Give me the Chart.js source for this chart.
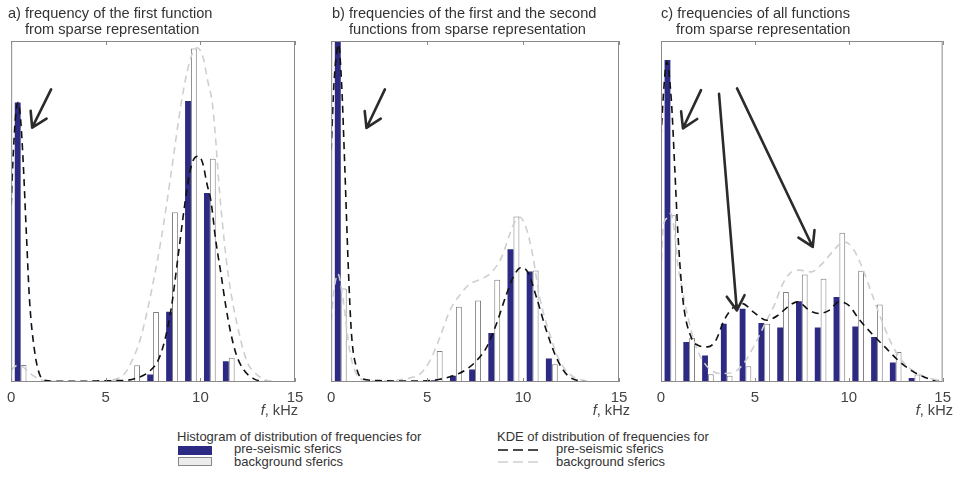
<!DOCTYPE html>
<html>
<head>
<meta charset="utf-8">
<script src="https://cdn.jsdelivr.net/npm/chart.js@4.4.1/dist/chart.umd.min.js"></script>
<style>
  body { margin: 0; background: #fff; font-family: "Liberation Sans", Arial, sans-serif; color: #333; }
  #page { position: relative; width: 958px; height: 490px; overflow: hidden; }
  canvas { position: absolute; top: 0; }
  .title { position: absolute; top: 6px; font-size: 14.6px; line-height: 15.5px; white-space: nowrap; }
  .unit { position: absolute; top: 403px; width: 80px; font-size: 14.6px; line-height: 15.5px; text-align: right; color: #444; }
  .lg { position: absolute; font-size: 13px; line-height: 15px; white-space: nowrap; }
  .box { position: absolute; left: 178px; width: 32px; height: 7px; }
</style>
</head>
<body>
<div id="page">
  <canvas id="chartA" width="320" height="412" style="left:0px"></canvas>
  <canvas id="chartB" width="320" height="412" style="left:320px"></canvas>
  <canvas id="chartC" width="318" height="412" style="left:640px"></canvas>

  <div class="title" style="left:8px">a) frequency of the first function<br><span style="padding-left:17px">from sparse representation</span></div>
  <div class="title" style="left:332px">b) frequencies of the first and the second<br><span style="padding-left:17px">functions from sparse representation</span></div>
  <div class="title" style="left:661px">c) frequencies of all functions<br><span style="padding-left:15px">from sparse representation</span></div>

  <div class="unit" style="left:218px"><i>f</i>, kHz</div>
  <div class="unit" style="left:550px"><i>f</i>, kHz</div>
  <div class="unit" style="left:873px"><i>f</i>, kHz</div>

  <div class="lg" style="left:177px; top:429px">Histogram of distribution of frequencies for</div>
  <div class="box" style="top:446px; background:#2d2a84; border:1px solid #2d2a84"></div>
  <div class="lg" style="left:234px; top:441px">pre-seismic sferics</div>
  <div class="box" style="top:457px; background:#ececec; border:1px solid #888"></div>
  <div class="lg" style="left:234px; top:454px">background sferics</div>

  <div class="lg" style="left:497px; top:429px">KDE of distribution of frequencies for</div>
  <svg style="position:absolute; left:498px; top:440px" width="42" height="30">
    <line x1="0" y1="10" x2="40" y2="10" stroke="#111" stroke-width="1.6" stroke-dasharray="10 5"></line>
    <line x1="0" y1="22" x2="40" y2="22" stroke="#cfcfcf" stroke-width="1.6" stroke-dasharray="10 5"></line>
  </svg>
  <div class="lg" style="left:556px; top:441px">pre-seismic sferics</div>
  <div class="lg" style="left:556px; top:454px">background sferics</div>
</div>

<script>
// histogram bin centres, kHz
const bins = [0.5, 1.5, 2.5, 3.5, 4.5, 5.5, 6.5, 7.5, 8.5, 9.5, 10.5, 11.5, 12.5, 13.5, 14.5];
const xTicks = [0, 5, 10, 15];

// a) first function
const preA = [82, 0, 0.3, 0.3, 0.3, 0.4, 0, 2.2, 20.6, 82.4, 55.4, 6.1, 0, 0, 0];
const bgA = [5, 0, 0, 0, 0.3, 0.5, 4.9, 20.5, 49.8, 97.8, 65.5, 7.1, 0, 0, 0];
const kdePreA = [[0, 52], [0.12, 68], [0.25, 79], [0.37, 82], [0.5, 77], [0.63, 65], [0.8, 44], [0.97, 24],
  [1.24, 9], [1.5, 2.3], [1.85, 0.4], [2.5, 0.2], [3.5, 0.2], [4.5, 0.3], [5.5, 0.4], [6.1, 0.5], [6.55, 1],
  [7.25, 2.9], [7.77, 6.4], [8.12, 12.3], [8.47, 22], [8.82, 36.8], [9.16, 51.5], [9.43, 61.3], [9.69, 65.7],
  [9.9, 66.2], [10.12, 64.2], [10.35, 58], [10.56, 53], [10.8, 42], [11.08, 32], [11.35, 22], [11.6, 14.5],
  [11.9, 8], [12.3, 3.5], [12.8, 1], [13.3, 0.2], [14, 0], [15, 0]];
const kdeBgA = [[0, 3.5], [0.3, 4.8], [0.6, 4.5], [1, 2.5], [1.5, 0.8], [2, 0.2], [4, 0.1], [5.5, 0.8], [6, 2.5],
  [6.4, 6.4], [6.81, 12.3], [7.2, 21], [7.6, 31.9], [7.9, 41], [8.2, 51.5], [8.6, 67], [8.96, 80.9], [9.3, 91],
  [9.55, 96], [9.83, 98], [10.12, 95.6], [10.4, 88], [10.65, 80.9], [11.08, 51.5], [11.46, 31.9], [12.13, 12.3],
  [12.5, 5.5], [12.82, 3], [13.5, 0.5], [14.5, 0], [15, 0]];

// b) first and second functions
const preB = [100, 0, 0.3, 0.3, 0.3, 0.5, 1.8, 3.7, 14.4, 38.9, 32.4, 6.9, 0, 0, 0];
const bgB = [27.4, 0, 0, 0, 0, 9.1, 22.1, 23.9, 30, 48.5, 32.7, 5.2, 0, 0, 0];
const kdePreB = [[0, 68], [0.15, 88], [0.3, 97], [0.38, 99], [0.54, 88], [0.71, 63], [0.89, 34], [1.06, 14],
  [1.32, 4.2], [1.65, 0.9], [2.5, 0.4], [3.5, 0.3], [4.6, 0.3], [5.66, 0.8], [6.35, 1.8], [7.05, 3.7], [7.57, 6.2],
  [8.09, 10.1], [8.61, 17], [9.14, 25.8], [9.57, 31.7], [9.92, 33.6], [10.26, 32.1], [10.7, 24.8], [11.22, 15],
  [11.74, 7.1], [12.26, 2.3], [12.95, 0.3], [13.63, 0], [15, 0]];
const kdeBgB = [[0, 18], [0.15, 27], [0.35, 31.7], [0.63, 23.8], [0.97, 9], [1.32, 2.3], [1.84, 0.5], [2.5, 0.3],
  [3.5, 0.6], [4.1, 1.2], [4.62, 2.3], [5.14, 6.2], [5.66, 13], [6.18, 20.9], [6.61, 24.8], [7.22, 28.7],
  [7.83, 30.2], [8.35, 32.1], [8.88, 36.6], [9.31, 43.4], [9.66, 47.9], [9.83, 48.3], [10.18, 44.9],
  [10.52, 36.6], [10.87, 24.8], [11.39, 14], [11.91, 6.2], [12.43, 2.3], [13.3, 0.3], [14, 0], [15, 0]];

// c) all functions
const preC = [94.4, 11.7, 7.8, 17.1, 21.5, 17.3, 16, 23.7, 16, 24.9, 16.3, 13.2, 5.7, 1.2, 0.3];
const bgC = [48.9, 13, 2.3, 1.8, 4.6, 17.1, 26.4, 31.5, 30.3, 43.8, 32.6, 22.7, 8.8, 2.2, 0.7];
const kdePreC = [[0, 71.9], [0.15, 86], [0.3, 93.9], [0.55, 82.7], [0.73, 63], [0.9, 43.6], [1.17, 24], [1.6, 13.2],
  [1.96, 10.8], [2.48, 10.3], [2.92, 12.2], [3.36, 18.1], [3.88, 22], [4.32, 23], [4.93, 20.5], [5.63, 18.1],
  [6.24, 19.6], [6.85, 22.5], [7.29, 23.5], [7.9, 21], [8.43, 20.1], [8.95, 21], [9.48, 23.5], [10, 22.5],
  [10.52, 18.6], [11.22, 14.2], [11.92, 10.3], [12.62, 6.4], [13.32, 3.4], [14, 1.5], [14.9, 0], [15, 0]];
const kdeBgC = [[0, 32.3], [0.12, 45.5], [0.3, 48], [0.52, 49.5], [0.73, 43.6], [0.91, 33.8], [1, 31], [1.43, 19.1],
  [1.87, 10.3], [2.48, 4.4], [3.18, 2.5], [3.88, 2.9], [4.4, 5.4], [4.93, 10.3], [5.54, 17.1], [6.07, 23],
  [6.41, 27.9], [6.85, 31.8], [7.38, 32.8], [7.99, 32.3], [8.6, 34.8], [9.21, 38.7], [9.74, 41.1], [10.17, 39.6],
  [10.7, 33.8], [11.22, 26], [11.75, 18.1], [12.36, 10.3], [12.97, 5.4], [13.67, 2.5], [14.37, 1], [15, 0.4]];

// annotation arrows: [fromX, fromY, toX, toY] in axis units
const arrowsA = [[2.11, 85.8, 1.11, 74.6]];
const arrowsB = [[2.8, 85.8, 1.84, 74.5]];
const arrowsC = [[2.13, 85.6, 1.17, 74.4], [3.09, 84.5, 4.04, 21.0], [4.05, 86.1, 8.08, 39.6]];

Chart.defaults.font.family = "'Liberation Sans', Arial, sans-serif";

const framePlugin = {
  id: "frame",
  afterDatasetsDraw(chart, args, opts) {
    const { ctx, chartArea: a, scales: { x, y } } = chart;
    ctx.save();
    ctx.strokeStyle = "#8a8a8a";
    ctx.lineWidth = 1;
    ctx.strokeRect(a.left + 0.5, a.top + 0.5, a.width - 1, a.height - 1);
    // matlab style inward ticks
    x.ticks.forEach(t => {
      const px = Math.round(x.getPixelForValue(t.value)) + 0.5;
      ctx.beginPath();
      ctx.moveTo(px, a.top);
      ctx.lineTo(px, a.top + 4);
      ctx.moveTo(px, a.bottom);
      ctx.lineTo(px, a.bottom - 4);
      ctx.stroke();
    });
    ctx.strokeStyle = "#2b2b2b";
    ctx.lineWidth = 2.6;
    ctx.lineCap = "round";
    (opts.arrows || []).forEach(([x1, y1, x2, y2]) => {
      const ax = x.getPixelForValue(x1), ay = y.getPixelForValue(y1);
      const bx = x.getPixelForValue(x2), by = y.getPixelForValue(y2);
      const ang = Math.atan2(by - ay, bx - ax);
      ctx.beginPath();
      ctx.moveTo(ax, ay);
      ctx.lineTo(bx, by);
      [-0.55, 0.55].forEach(d => {
        ctx.moveTo(bx, by);
        ctx.lineTo(bx - 17 * Math.cos(ang + d), by - 17 * Math.sin(ang + d));
      });
      ctx.stroke();
    });
    ctx.restore();
  }
};

const makeChart = (id, pre, bg, kdePre, kdeBg, arrows, padLeft, padRight) => {
  const ctx = document.getElementById(id).getContext("2d");
  return new Chart(ctx, {
    type: "bar",
    data: {
      datasets: [
        {
          type: "line",
          label: "KDE pre-seismic",
          data: kdePre.map(p => ({ x: p[0], y: p[1] })),
          borderColor: "#111",
          borderWidth: 1.6,
          borderDash: [7, 5],
          pointRadius: 0,
          cubicInterpolationMode: "monotone",
          order: 0
        },
        {
          type: "line",
          label: "KDE background",
          data: kdeBg.map(p => ({ x: p[0], y: p[1] })),
          borderColor: "#cfcfcf",
          borderWidth: 1.6,
          borderDash: [7, 5],
          pointRadius: 0,
          cubicInterpolationMode: "monotone",
          order: 1
        },
        {
          label: "pre-seismic sferics",
          data: bins.map((b, i) => ({ x: b, y: pre[i] })),
          backgroundColor: "#2d2a84",
          borderColor: "#2d2a84",
          borderWidth: 0,
          categoryPercentage: 0.62,
          barPercentage: 1,
          order: 2
        },
        {
          label: "background sferics",
          data: bins.map((b, i) => ({ x: b, y: bg[i] })),
          backgroundColor: "#ffffff",
          borderColor: "#808080",
          borderWidth: 1,
          categoryPercentage: 0.62,
          barPercentage: 1,
          order: 3
        }
      ]
    },
    options: {
      responsive: false,
      animation: false,
      events: [],
      layout: { padding: { left: padLeft, right: padRight, top: 41, bottom: 0 } },
      scales: {
        x: {
          type: "linear",
          offset: false,
          min: 0,
          max: 15,
          afterBuildTicks: scale => {
            scale.ticks = xTicks.map(v => ({ value: v }));
          },
          afterFit: scale => {
            scale.height = 30;
          },
          grid: { display: false, drawTicks: false },
          border: { display: false },
          ticks: { padding: 7, color: "#444", font: { size: 15 }, maxRotation: 0 }
        },
        y: { display: false, min: 0, max: 100 }
      },
      plugins: {
        legend: { display: false },
        tooltip: { enabled: false },
        frame: { arrows: arrows }
      }
    },
    plugins: [framePlugin]
  });
};

document.addEventListener("DOMContentLoaded", () => {
  makeChart("chartA", preA, bgA, kdePreA, kdeBgA, arrowsA, 8, 25);
  makeChart("chartB", preB, bgB, kdePreB, kdeBgB, arrowsB, 11, 21);
  makeChart("chartC", preC, bgC, kdePreC, kdeBgC, arrowsC, 21, 11);
});
</script>
</body>
</html>
